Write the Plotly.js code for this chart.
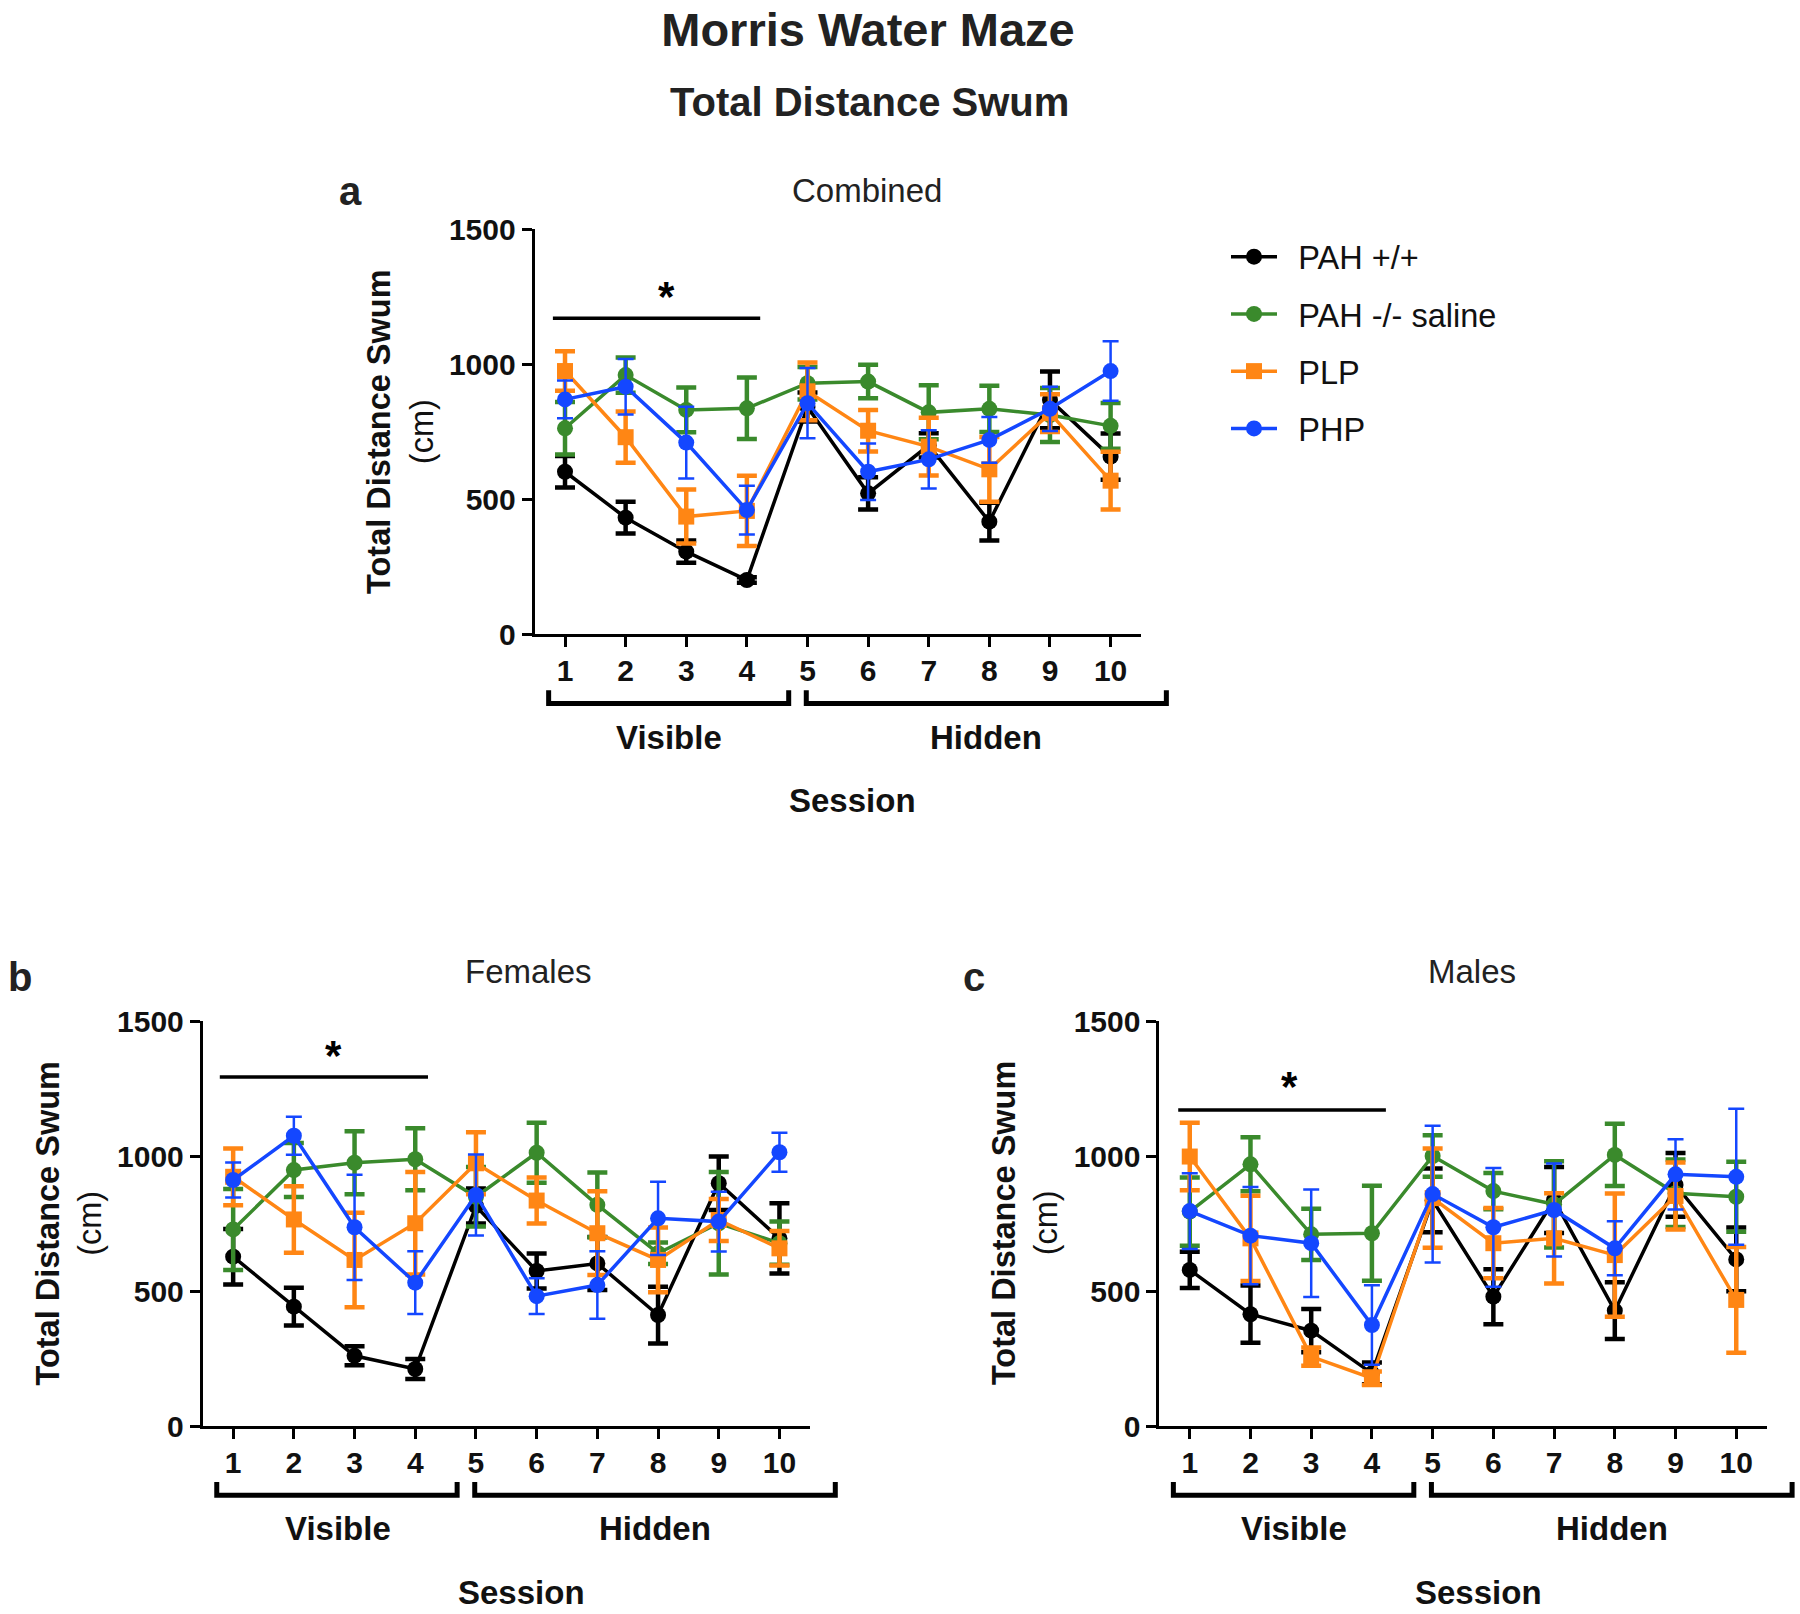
<!DOCTYPE html>
<html><head><meta charset="utf-8">
<script src="https://cdn.plot.ly/plotly-3.0.1.min.js"></script>
<style>body{margin:0;background:#fff}</style>
</head><body><div id="chart" style="width:1800px;height:1614px"></div>
<script>
// ---------------- DATA ----------------
const sessions = [1, 2, 3, 4, 5, 6, 7, 8, 9, 10];
const groupNames = ['PAH +/+', 'PAH -/- saline', 'PLP', 'PHP'];
const panelTitles = ['Combined', 'Females', 'Males'];
const panelLetters = ['a', 'b', 'c'];
const yTickVals = [0, 500, 1000, 1500];

// Combined
const combinedWT        = [602, 432, 306, 201, 842, 522, 700, 417, 868, 658];
const combinedWTErr     = [58, 59, 41, 10, 54, 60, 45, 70, 105, 86];
const combinedSaline    = [763, 960, 831, 837, 930, 936, 822, 835, 812, 772];
const combinedSalineErr = [97, 65, 83, 114, 60, 62, 100, 86, 100, 85];
const combinedPLP       = [975, 730, 436, 457, 900, 754, 695, 611, 819, 569];
const combinedPLPErr    = [73, 95, 100, 130, 107, 77, 107, 120, 70, 107];
const combinedPHP       = [870, 917, 710, 460, 856, 602, 648, 720, 835, 975];
const combinedPHPErr    = [70, 103, 133, 90, 130, 105, 108, 85, 82, 110];

// Females
const femaleWT        = [627, 442, 260, 211, 815, 574, 602, 411, 899, 695];
const femaleWTErr     = [103, 70, 35, 37, 65, 65, 98, 105, 99, 130];
const femaleSaline    = [728, 948, 975, 988, 849, 1012, 819, 640, 751, 677];
const femaleSalineErr = [150, 100, 117, 115, 110, 111, 120, 40, 190, 80];
const femalePLP       = [923, 765, 615, 751, 973, 835, 714, 615, 763, 658];
const femalePLPErr    = [105, 123, 175, 190, 115, 85, 155, 120, 78, 64];
const femalePHP       = [911, 1075, 736, 531, 856, 481, 522, 769, 757, 1014];
const femalePHPErr    = [65, 70, 195, 116, 150, 66, 125, 136, 111, 72];

// Males
const maleWT        = [578, 414, 353, 195, 836, 479, 837, 427, 893, 617];
const maleWTErr     = [67, 106, 80, 40, 118, 102, 122, 105, 118, 118];
const maleSaline    = [794, 969, 710, 714, 1000, 870, 821, 1004, 862, 849];
const maleSalineErr = [126, 100, 95, 176, 77, 67, 160, 115, 125, 130];
const malePLP       = [998, 695, 257, 177, 844, 677, 695, 633, 852, 467];
const malePLPErr    = [125, 158, 34, 25, 184, 130, 167, 228, 124, 196];
const malePHP       = [796, 705, 677, 374, 859, 736, 800, 658, 932, 923];
const malePHPErr    = [140, 180, 199, 147, 253, 220, 172, 100, 130, 252];

// Significance bars (session range) and star label
const sigStart = [0.80, 0.78, 0.81];
const sigEnd   = [4.22, 4.21, 4.23];
const sigLevel = [1171, 1293, 1170];
const sigLabel = '*';

// ---------------- STYLE ----------------
const FONT = 'Liberation Sans, Arial, Helvetica, sans-serif';
const colors = ['#000000', '#3a8a2c', '#ff8614', '#1447ff'];
const symbols = ['circle', 'circle', 'square', 'circle'];
const panelValues = [
  [combinedWT, combinedSaline, combinedPLP, combinedPHP],
  [femaleWT, femaleSaline, femalePLP, femalePHP],
  [maleWT, maleSaline, malePLP, malePHP]
];
const panelErrors = [
  [combinedWTErr, combinedSalineErr, combinedPLPErr, combinedPHPErr],
  [femaleWTErr, femaleSalineErr, femalePLPErr, femalePHPErr],
  [maleWTErr, maleSalineErr, malePLPErr, malePHPErr]
];
const W = 1800, H = 1614;
// plot areas in px: [left, right, top, bottom]
const boxes = [
  [534.7, 1140.9, 229.3, 634.3],
  [202.8, 809.8, 1021, 1426],
  [1159.4, 1766.6, 1021, 1426]
];
const titleY = [1.097, 1.123, 1.123];
const titleX = [0.548, 0.536, 0.515];
const letterPos = [[350, 191], [20, 977], [974, 977]];
const starX = [2.67, 2.66, 2.65];
const starY = [1250, 1373, 1258];

const traces = [];
const layout = {
  width: W, height: H,
  margin: {l: 0, r: 0, t: 0, b: 0},
  paper_bgcolor: '#ffffff', plot_bgcolor: '#ffffff',
  font: {family: FONT, color: '#000'},
  showlegend: true,
  legend: {
    x: 1226 / W, y: 1 - 229 / H, xanchor: 'left', yanchor: 'top',
    font: {family: FONT, size: 32.5, color: '#111'},
    tracegroupgap: 12, itemwidth: 46, bgcolor: 'rgba(0,0,0,0)'
  },
  title: {
    text: 'Morris Water Maze', x: 868 / W, xanchor: 'center',
    y: 1 - 30 / H, yanchor: 'middle',
    font: {family: FONT, size: 47, weight: 'bold', color: '#222'}
  },
  annotations: [], shapes: []
};

layout.annotations.push({
  text: 'Total Distance Swum', xref: 'paper', yref: 'paper',
  x: 869 / W, y: 1 - 102 / H, xanchor: 'center', yanchor: 'middle', showarrow: false,
  font: {family: FONT, size: 40, weight: 'bold', color: '#222'}
});

boxes.forEach((b, p) => {
  const sfx = p === 0 ? '' : String(p + 1);
  const xa = 'xaxis' + sfx, ya = 'yaxis' + sfx;
  const xr = 'x' + sfx, yr = 'y' + sfx;
  layout[xa] = {
    domain: [b[0] / W, b[1] / W], anchor: yr, range: [0.5, 10.5],
    tickmode: 'array', tickvals: sessions, ticktext: sessions.map(String),
    ticks: 'outside', ticklen: 10, tickwidth: 3, tickcolor: '#000',
    showline: true, linewidth: 3, linecolor: '#000',
    showgrid: false, zeroline: false, ticklabelstandoff: -2,
    tickfont: {family: FONT, size: 30, weight: 'bold', color: '#111'}
  };
  layout[ya] = {
    domain: [1 - b[3] / H, 1 - b[2] / H], anchor: xr, range: [0, 1500],
    tickmode: 'array', tickvals: yTickVals,
    ticks: 'outside', ticklen: 10, tickwidth: 3, tickcolor: '#000',
    showline: true, linewidth: 3, linecolor: '#000',
    showgrid: false, zeroline: false, ticklabelstandoff: 0,
    tickfont: {family: FONT, size: 30, weight: 'bold', color: '#111'}
  };

  groupNames.forEach((name, g) => {
    const isBlue = g === 3;
    traces.push({
      type: 'scatter', mode: 'lines+markers', name: '\u2002' + name,
      x: sessions, y: panelValues[p][g],
      xaxis: xr, yaxis: yr,
      legendgroup: name, showlegend: p === 0,
      cliponaxis: false,
      line: {color: colors[g], width: 3.5},
      marker: {color: colors[g], size: 16, symbol: symbols[g]},
      error_y: {
        type: 'data', array: panelErrors[p][g], visible: true,
        color: colors[g], thickness: isBlue ? 2.5 : 4.5, width: isBlue ? 8 : 10
      }
    });
  });

  const dx = xr + ' domain', dy = yr + ' domain';
  // subplot title
  layout.annotations.push({
    text: panelTitles[p], xref: dx, yref: dy, x: titleX[p], y: titleY[p],
    xanchor: 'center', yanchor: 'middle', showarrow: false,
    font: {family: FONT, size: 33, color: '#222'}
  });
  // panel letter
  layout.annotations.push({
    text: panelLetters[p], xref: 'paper', yref: 'paper',
    x: letterPos[p][0] / W, y: 1 - letterPos[p][1] / H,
    xanchor: 'center', yanchor: 'middle', showarrow: false,
    font: {family: FONT, size: 40, weight: 'bold', color: '#222'}
  });
  // y-axis title
  layout.annotations.push({
    text: '<b>Total Distance Swum</b><br>(cm)', xref: dx, yref: dy,
    x: -0.222, y: 0.5, xanchor: 'center', yanchor: 'middle', textangle: -90,
    showarrow: false, font: {family: FONT, size: 32.5, color: '#111'}
  });
  // phase labels and x title
  [['Visible', 0.222, -0.254], ['Hidden', 0.745, -0.254], ['Session', 0.525, -0.411]].forEach(t => {
    layout.annotations.push({
      text: t[0], xref: dx, yref: dy, x: t[1], y: t[2],
      xanchor: 'center', yanchor: 'middle', showarrow: false,
      font: {family: FONT, size: 33, weight: 'bold', color: '#111'}
    });
  });
  // brackets
  [[0.023, 0.419], [0.448, 1.042]].forEach(br => {
    layout.shapes.push({
      type: 'path', xref: dx, yref: dy,
      path: `M ${br[0]} -0.138 L ${br[0]} -0.171 L ${br[1]} -0.171 L ${br[1]} -0.138`,
      line: {color: '#000', width: 5}
    });
  });
  // significance bar
  layout.shapes.push({
    type: 'line', xref: xr, yref: yr, x0: sigStart[p], x1: sigEnd[p],
    y0: sigLevel[p], y1: sigLevel[p], line: {color: '#000', width: 3.5}
  });
  layout.annotations.push({
    text: sigLabel, xref: xr, yref: yr, x: starX[p], y: starY[p],
    xanchor: 'center', yanchor: 'middle', showarrow: false,
    font: {family: FONT, size: 42, weight: 'bold', color: '#000'}
  });
});

Plotly.newPlot('chart', traces, layout, {displayModeBar: false, staticPlot: true});
</script>
</body></html>
